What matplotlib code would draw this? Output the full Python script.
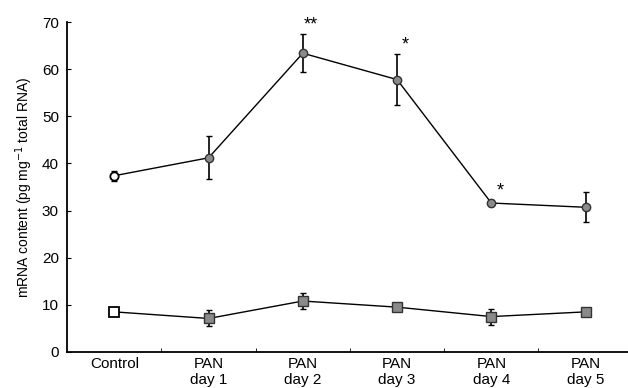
import numpy as np
import matplotlib.pyplot as plt

plt.rcParams['font.family'] = ['Liberation Sans', 'DejaVu Sans']

groups = ['Control', 'PAN\nday 1', 'PAN\nday 2', 'PAN\nday 3', 'PAN\nday 4', 'PAN\nday 5']

# circles (upper series)
upper_mean = [37.4, 41.2, 63.4, 57.8, 31.6, 30.7]
upper_err = [1.1, 4.6, 4.0, 5.4, 0.6, 3.2]
upper_sig = ['', '', '**', '*', '*', '']

# squares (lower series)
lower_mean = [8.5, 7.1, 10.8, 9.5, 7.5, 8.5]
lower_err = [0.0, 1.7, 1.7, 0.0, 1.7, 0.0]

x = np.arange(len(groups))
fill = '#8a8a8a'

fig = plt.figure(figsize=(6.28, 3.88), dpi=100)
ax = fig.add_axes([0.107, 0.093, 0.893, 0.85])

ax.errorbar(x, upper_mean, yerr=upper_err, color='black', lw=1.0,
            elinewidth=1.2, capsize=2.5, capthick=1.0, fmt='none', zorder=2)
ax.plot(x, upper_mean, color='black', lw=1.0, zorder=2)
ax.plot(x[1:], upper_mean[1:], 'o', ms=6, mfc=fill, mec='#333333', mew=1.0, zorder=3)
ax.plot(x[:1], upper_mean[:1], 'o', ms=6, mfc='white', mec='black', mew=1.3, zorder=3)

ax.errorbar(x, lower_mean, yerr=lower_err, color='black', lw=1.0,
            elinewidth=1.2, capsize=2.5, capthick=1.0, fmt='none', zorder=2)
ax.plot(x, lower_mean, color='black', lw=1.0, zorder=2)
ax.plot(x[1:], lower_mean[1:], 's', ms=6.5, mfc=fill, mec='#333333', mew=1.0, zorder=3)
ax.plot(x[:1], lower_mean[:1], 's', ms=6.5, mfc='white', mec='black', mew=1.3, zorder=3)

# significance stars above the error bars
for xi, m, e, s in zip(x, upper_mean, upper_err, upper_sig):
    if s:
        ax.text(xi + 0.09, m + e + 1.0, s, ha='center', va='baseline', fontsize=13)

ax.set_xlim(-0.5, 5.45)
ax.set_ylim(0, 70)
ax.set_yticks(range(0, 71, 10))
ax.set_xticks(x)
ax.set_xticklabels(groups, fontsize=11, va='top', linespacing=1.1)
ax.set_xticks(x[:-1] + 0.5, minor=True)
ax.tick_params(axis='x', which='major', length=0, pad=4)
ax.tick_params(axis='x', which='minor', direction='in', length=3)
ax.tick_params(axis='y', direction='in', length=3, labelsize=11, pad=6)

ax.spines['top'].set_visible(False)
ax.spines['right'].set_visible(False)
ax.spines['left'].set_linewidth(1.3)
ax.spines['bottom'].set_linewidth(1.3)

ax.set_ylabel('mRNA content (pg mg$^{-1}$ total RNA)', fontsize=10, labelpad=5)

fig.savefig('out.png', dpi=100)
